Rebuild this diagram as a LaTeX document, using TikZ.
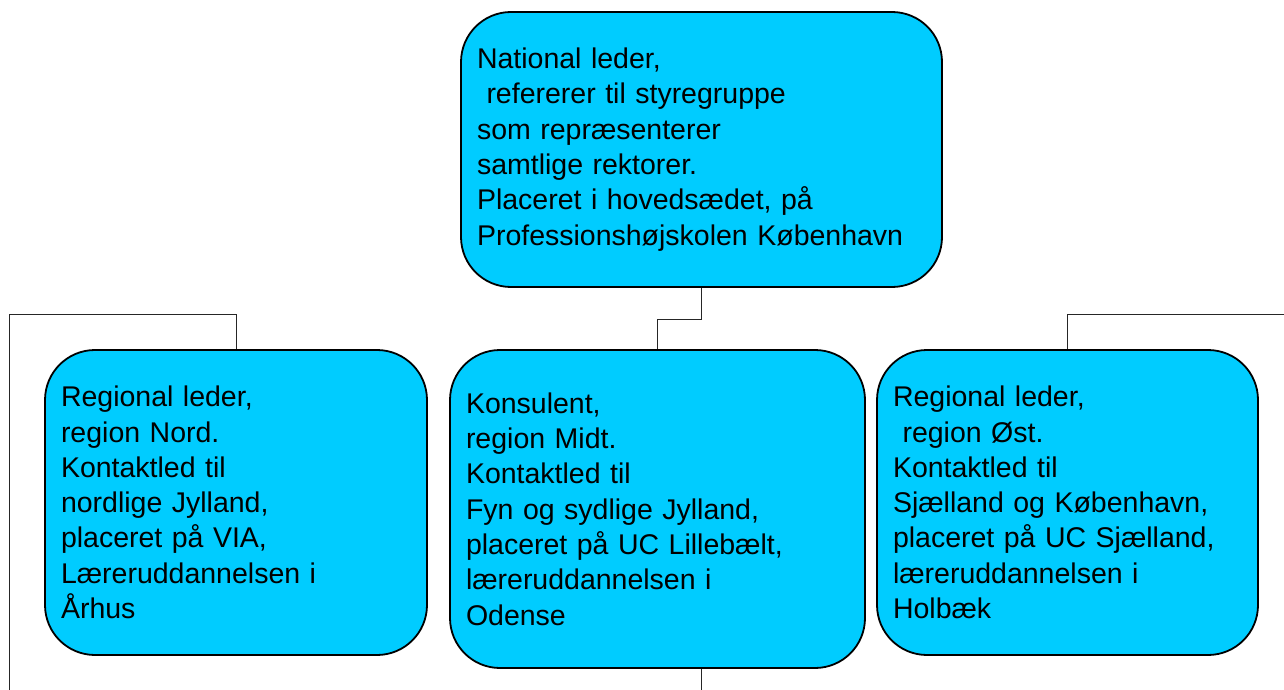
\documentclass[tikz,border=0pt]{standalone}
\usepackage{fontspec}
\setmainfont{Liberation Sans}
\usepackage{tikz}
\usepackage{xcolor}
\usetikzlibrary{positioning}
\definecolor{boxcyan}{HTML}{00CCFF}

\begin{document}
\begin{tikzpicture}[x=1pt, y=-1pt,
  every node/.style={font=\fontsize{28.5}{35.3}\selectfont},
  orgbox/.style={draw, line width=1.8pt, fill=boxcyan, rounded corners=50pt,
    inner xsep=16pt, inner ysep=0pt, align=left},
  link/.style={draw=black!85, line width=1pt}]
  \useasboundingbox (0,0) rectangle (1284,690);
  \node (national) [orgbox, minimum width=481pt, minimum height=275pt, text width=449pt] at (701.5,149.5)
    {National leder,\\\ refererer til styregruppe\\som repræsenterer\\samtlige rektorer.\\Placeret i hovedsædet, på\\Professionshøjskolen København};
  \node (nord) [orgbox, minimum width=382pt, minimum height=305pt, text width=350pt] at (236,502.5)
    {Regional leder,\\region Nord.\\Kontaktled til\\nordlige Jylland,\\placeret på VIA,\\Læreruddannelsen i\\Århus};
  \node (midt) [orgbox, minimum width=415pt, minimum height=318pt, text width=383pt] at (657.5,509)
    {Konsulent,\\region Midt.\\Kontaktled til\\Fyn og sydlige Jylland,\\placeret på UC Lillebælt,\\læreruddannelsen i\\Odense};
  \node (oest) [orgbox, minimum width=381pt, minimum height=305pt, text width=349pt] at (1067.5,502.5)
    {Regional leder,\\\ region Øst.\\Kontaktled til\\Sjælland og København,\\placeret på UC Sjælland,\\læreruddannelsen i\\Holbæk};
  % free ends of the connectors
  \coordinate (leftend) at (9,690);
  \coordinate (leftbend) at (9,314);
  \coordinate (rightend) at (1284,314);
  \coordinate (midbend) at (0,319);
  \coordinate (bottomend) at (701.5,690);
  \draw[link] (national.south) |- (midbend -| midt.north) -- (midt.north);
  \draw[link] (midt.south -| national.south) -- (bottomend);
  \draw[link] (nord.north) |- (leftbend) -- (leftend);
  \draw[link] (oest.north) |- (rightend);
\end{tikzpicture}
\end{document}
